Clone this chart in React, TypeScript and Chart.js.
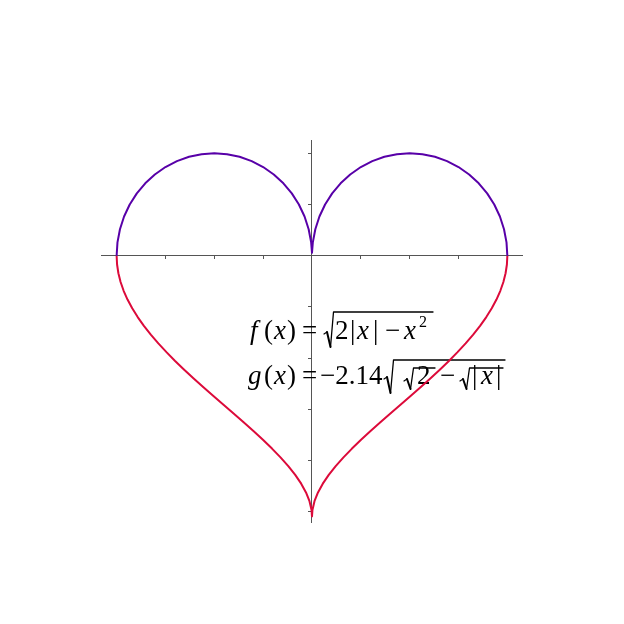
import { useEffect, useRef } from "react";
import { Chart, registerables } from "chart.js";

Chart.register(...registerables);

// f(x) = sqrt(2|x| - x^2), read along the upper lobes, x from -2 to 2
const topX = [
  -2, -1.9914, -1.9659, -1.9239, -1.866, -1.7934, -1.7071, -1.6088, -1.5, -1.3827, -1.2588, -1.1305, -1,
  -0.8695, -0.7412, -0.6173, -0.5, -0.3912, -0.2929, -0.2066, -0.134, -0.0761, -0.0341, -0.0086, 0,
  0.0086, 0.0341, 0.0761, 0.134, 0.2066, 0.2929, 0.3912, 0.5, 0.6173, 0.7412, 0.8695, 1,
  1.1305, 1.2588, 1.3827, 1.5, 1.6088, 1.7071, 1.7934, 1.866, 1.9239, 1.9659, 1.9914, 2,
];
const topY = [
  0, 0.1305, 0.2588, 0.3827, 0.5, 0.6088, 0.7071, 0.7934, 0.866, 0.9239, 0.9659, 0.9914, 1,
  0.9914, 0.9659, 0.9239, 0.866, 0.7934, 0.7071, 0.6088, 0.5, 0.3827, 0.2588, 0.1305, 0.03,
  0.1305, 0.2588, 0.3827, 0.5, 0.6088, 0.7071, 0.7934, 0.866, 0.9239, 0.9659, 0.9914, 1,
  0.9914, 0.9659, 0.9239, 0.866, 0.7934, 0.7071, 0.6088, 0.5, 0.3827, 0.2588, 0.1305, 0,
];

// g(x) = -2.14 sqrt(sqrt(2) - sqrt|x|), read along the lower part, x from -2 to 2
const bottomX = [
  -2, -1.99547, -1.98193, -1.95947, -1.92825, -1.88846, -1.84039, -1.78439, -1.72085, -1.65023,
  -1.57305, -1.48989, -1.40141, -1.3083, -1.21134, -1.11136, -1.00924, -0.90594, -0.80248, -0.69992,
  -0.5994, -0.50213, -0.40936, -0.32241, -0.24267, -0.17157, -0.11063, -0.06141, -0.02554, -0.00471, 0,
  0.00471, 0.02554, 0.06141, 0.11063, 0.17157, 0.24267, 0.32241, 0.40936, 0.50213, 0.5994,
  0.69992, 0.80248, 0.90594, 1.00924, 1.11136, 1.21134, 1.3083, 1.40141, 1.48989, 1.57305,
  1.65023, 1.72085, 1.78439, 1.84039, 1.88846, 1.92825, 1.95947, 1.98193, 1.99547, 2,
];
const bottomY = [
  0, -0.0856, -0.1712, -0.2568, -0.3424, -0.428, -0.5136, -0.5992, -0.6848, -0.7704,
  -0.856, -0.9416, -1.0272, -1.1128, -1.1984, -1.284, -1.3696, -1.4552, -1.5408, -1.6264,
  -1.712, -1.7976, -1.8832, -1.9688, -2.0544, -2.14, -2.2256, -2.3112, -2.3968, -2.4824, -2.5449,
  -2.4824, -2.3968, -2.3112, -2.2256, -2.14, -2.0544, -1.9688, -1.8832, -1.7976, -1.712,
  -1.6264, -1.5408, -1.4552, -1.3696, -1.284, -1.1984, -1.1128, -1.0272, -0.9416, -0.856,
  -0.7704, -0.6848, -0.5992, -0.5136, -0.428, -0.3424, -0.2568, -0.1712, -0.0856, 0,
];

const xTicks = [-2, -1.5, -1, -0.5, 0.5, 1, 1.5, 2];
const yTicks = [1, 0.5, -0.5, -1, -1.5, -2, -2.5];
const xMin = -2.16;
const xMax = 2.15;
const yMin = -2.6;
const yMax = 1.13;

const PURPLE = "#5800a8";
const RED = "#dc0a3a";
const AXIS = "#555555";

const SERIF = "'Liberation Serif', 'Times New Roman', serif";

function txt(ctx: CanvasRenderingContext2D, s: string, x: number, y: number, size: number, italic = false) {
  ctx.font = `${italic ? "italic " : ""}${size}px ${SERIF}`;
  ctx.fillText(s, x, y);
}

function radical(ctx: CanvasRenderingContext2D, x: number, barY: number, barEnd: number, bottom: number, midY: number) {
  ctx.lineCap = "round";
  ctx.lineJoin = "round";
  ctx.lineWidth = 1.2;
  ctx.beginPath();
  ctx.moveTo(x, midY + 1);
  ctx.lineTo(x + 3, midY - 1);
  ctx.stroke();
  ctx.lineWidth = 2;
  ctx.beginPath();
  ctx.moveTo(x + 3, midY - 1);
  ctx.lineTo(x + 6.5, bottom);
  ctx.stroke();
  ctx.lineWidth = 1.3;
  ctx.beginPath();
  ctx.moveTo(x + 6.5, bottom);
  ctx.lineTo(x + 9.5, barY);
  ctx.lineTo(barEnd, barY);
  ctx.stroke();
}

const formulaPlugin = {
  id: "formula",
  beforeDatasetsDraw(chart: Chart) {
    const ctx = chart.ctx;
    ctx.save();
    ctx.fillStyle = "#000";
    ctx.strokeStyle = "#000";
    ctx.textBaseline = "alphabetic";
    ctx.textAlign = "left";
    const S = 27;
    // f(x) line
    let b = 339;
    txt(ctx, "f", 250, b, S, true);
    txt(ctx, "(", 264, b, S);
    txt(ctx, "x", 274, b, S, true);
    txt(ctx, ")", 287, b, S);
    txt(ctx, "=", 302, b, S);
    radical(ctx, 324, 312, 433, 347, 333);
    txt(ctx, "2", 335, b, S);
    txt(ctx, "|", 350, b, S);
    txt(ctx, "x", 357, b, S, true);
    txt(ctx, "|", 373, b, S);
    txt(ctx, "\u2212", 385, b, S);
    txt(ctx, "x", 404, b, S, true);
    txt(ctx, "2", 419, b - 12, 16);
    // g(x) line
    b = 384;
    txt(ctx, "g", 248, b, S, true);
    txt(ctx, "(", 264, b, S);
    txt(ctx, "x", 274, b, S, true);
    txt(ctx, ")", 287, b, S);
    txt(ctx, "=", 302, b, S);
    txt(ctx, "\u22122.14", 320, b, S);
    radical(ctx, 384, 360, 505, 393, 378);
    radical(ctx, 404, 368, 435, 389, 380);
    txt(ctx, "2", 417, b, S);
    txt(ctx, "\u2212", 440, b, S);
    radical(ctx, 460, 368, 503, 389, 380);
    txt(ctx, "|", 472, b, S);
    txt(ctx, "x", 481, b, S, true);
    txt(ctx, "|", 496, b, S);
    ctx.restore();
  },
};

export default function App() {
  const ref = useRef<HTMLCanvasElement>(null);
  useEffect(() => {
    const top = topX.map((x, i) => ({ x, y: topY[i] }));
    const bottom = bottomX.map((x, i) => ({ x, y: bottomY[i] }));
    const chart = new Chart(ref.current as HTMLCanvasElement, {
      type: "scatter",
      data: {
        datasets: [
          {
            data: top,
            showLine: true,
            borderColor: PURPLE,
            backgroundColor: PURPLE,
            borderWidth: 2,
            pointRadius: 0,
            borderJoinStyle: "round",
            tension: 0,
          },
          {
            data: bottom,
            showLine: true,
            borderColor: RED,
            backgroundColor: RED,
            borderWidth: 2,
            pointRadius: 0,
            borderJoinStyle: "round",
            tension: 0,
          },
        ],
      },
      options: {
        responsive: false,
        animation: false,
        layout: { padding: { left: 101, right: 102, top: 140, bottom: 102 } },
        plugins: { legend: { display: false }, tooltip: { enabled: false } },
        scales: {
          x: {
            type: "linear",
            min: xMin,
            max: xMax,
            position: { y: 0 },
            afterBuildTicks: (s: any) => {
              s.ticks = xTicks.map((v) => ({ value: v }));
            },
            ticks: { display: false },
            grid: { display: true, drawOnChartArea: false, drawTicks: true, tickLength: 3, color: AXIS },
            border: { display: true, color: AXIS, width: 1 },
          },
          y: {
            type: "linear",
            min: yMin,
            max: yMax,
            position: { x: 0 },
            afterBuildTicks: (s: any) => {
              s.ticks = yTicks.map((v) => ({ value: v }));
            },
            ticks: { display: false },
            grid: { display: true, drawOnChartArea: false, drawTicks: true, tickLength: 3, color: AXIS },
            border: { display: true, color: AXIS, width: 1 },
          },
        },
      },
      plugins: [formulaPlugin],
    });
    return () => chart.destroy();
  }, []);
  return (
    <div style={{ position: "absolute", left: 0, top: 0, width: 624, height: 624, background: "#fff" }}>
      <canvas ref={ref} width={624} height={624} style={{ display: "block" }} />
    </div>
  );
}
